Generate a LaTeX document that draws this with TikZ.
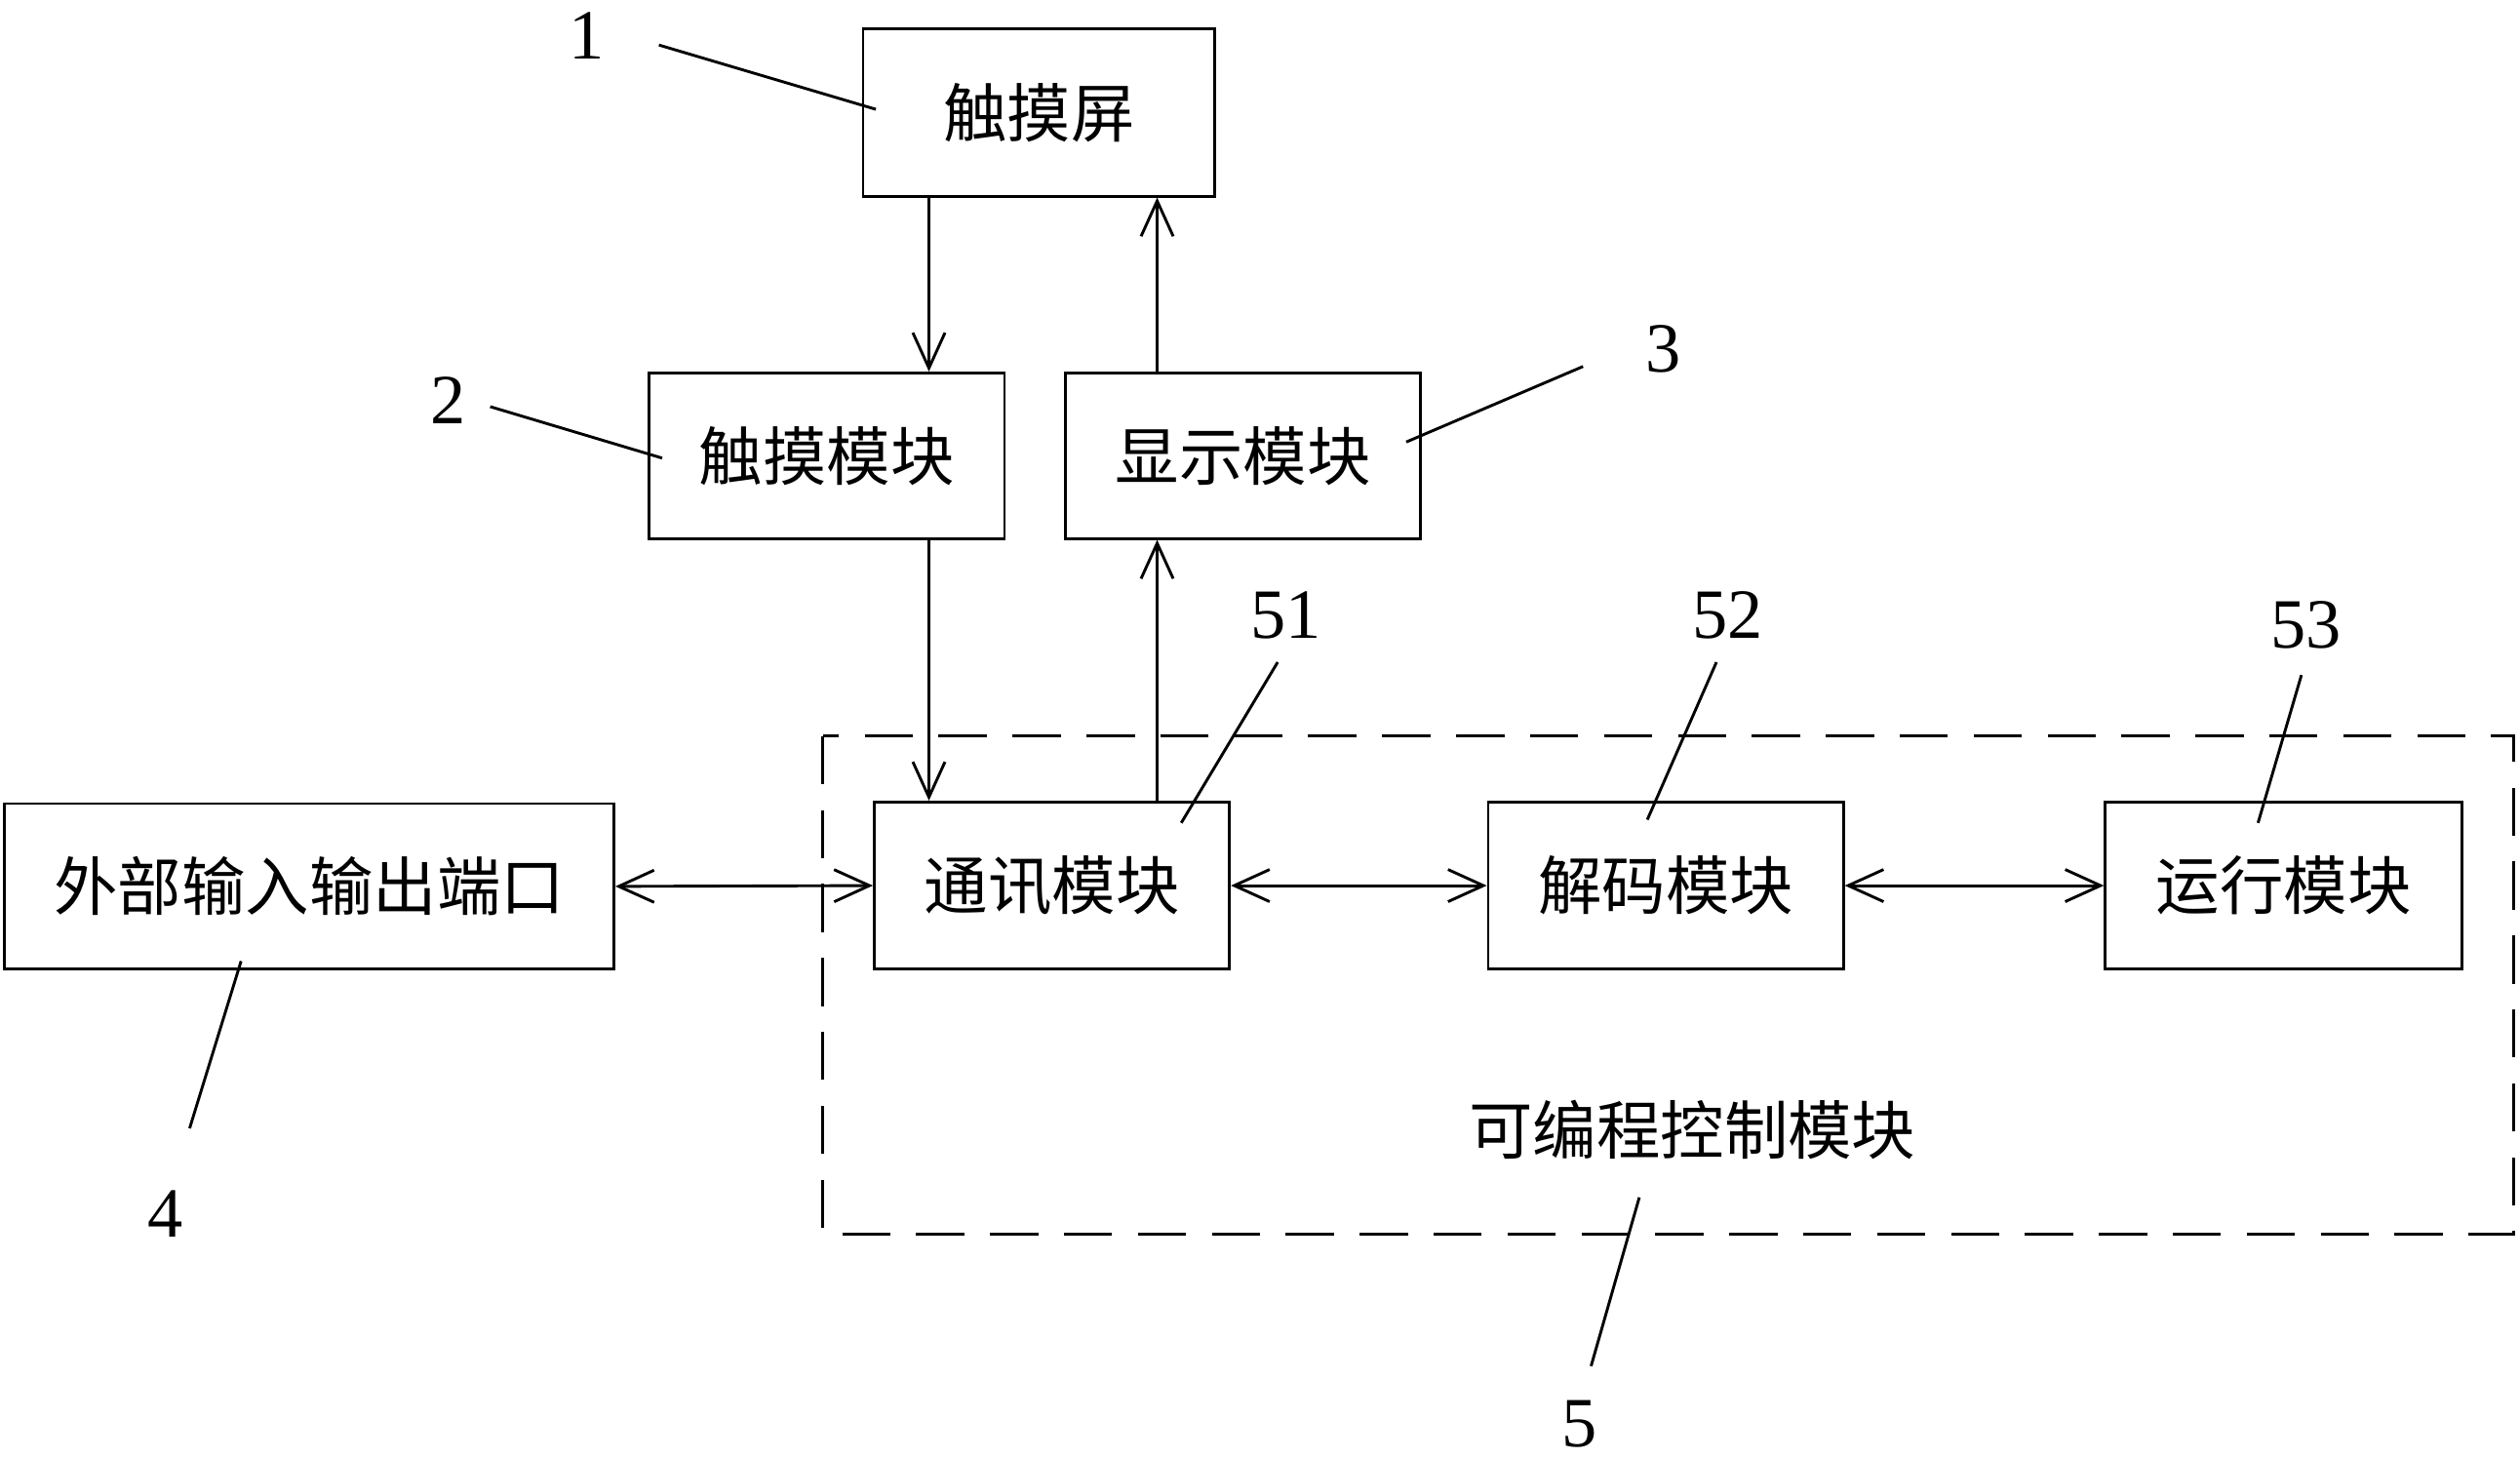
\documentclass[tikz,border=0pt]{standalone}
\usepackage{fontspec}
\setmainfont{Liberation Serif}
\newfontfamily\cjk{Noto Sans CJK SC}
\usetikzlibrary{arrows.meta}
\begin{document}
\begin{tikzpicture}[x=0.1mm,y=-0.1mm,
  box/.style={draw,line width=0.5pt,inner sep=0pt,font=\cjk\fontsize{11.3}{13}\selectfont},
  num/.style={font=\fontsize{12.5}{14}\selectfont,inner sep=0pt},
  ar/.style={line width=0.5pt,-{Straight Barb[length=2.2mm,width=2mm]}},
  dar/.style={line width=0.5pt,{Straight Barb[length=2.2mm,width=2mm]}-{Straight Barb[length=2.2mm,width=2mm]}},
  ld/.style={line width=0.5pt}]
\useasboundingbox (0,0) rectangle (1568,907);
\node[box,minimum width=21.9mm,minimum height=10.4mm] (ts) at (646.5,70) {触摸屏};
\node[box,minimum width=22.1mm,minimum height=10.3mm] (tm) at (514.5,283.5) {触摸模块};
\node[box,minimum width=22.1mm,minimum height=10.3mm] (dm) at (773.5,283.5) {显示模块};
\node[box,minimum width=37.9mm,minimum height=10.3mm] (io) at (192.5,551.5) {外部输入输出端口};
\node[box,minimum width=22.1mm,minimum height=10.4mm] (cm) at (654.5,551) {通讯模块};
\node[box,minimum width=22.1mm,minimum height=10.4mm] (jm) at (1036.5,551) {解码模块};
\node[box,minimum width=22.2mm,minimum height=10.4mm] (rm) at (1421,551) {运行模块};
\draw[line width=0.5pt,dash pattern=on 3mm off 1.6mm] (512,458) rectangle (1564,768);
\node[font=\cjk\fontsize{11.3}{13}\selectfont] (pc) at (1053,703) {可编程控制模块};

\draw[ar] (ts.south -| 578,0) -- (tm.north -| 578,0);
\draw[ar] (dm.north -| 720,0) -- (ts.south -| 720,0);
\draw[ar] (tm.south -| 578,0) -- (cm.north -| 578,0);
\draw[ar] (cm.north -| 720,0) -- (dm.south -| 720,0);
\draw[dar] (io.east) -- (cm.west);
\draw[dar] (cm.east) -- (jm.west);
\draw[dar] (jm.east) -- (rm.west);

\node[num] (n1) at (365,22) {1};
\node[num] (n2) at (279,249) {2};
\node[num] (n3) at (1035,217) {3};
\node[num] (n4) at (103,755) {4};
\node[num] (n5) at (983,886) {5};
\node[num] (n51) at (800,383) {51};
\node[num] (n52) at (1075,383) {52};
\node[num] (n53) at (1435,389) {53};
\coordinate (e1) at (545,68); \draw[ld] (410,28) -- (e1);
\coordinate (e2) at (412,285); \draw[ld] (305,253) -- (e2);
\coordinate (e3) at (875,275); \draw[ld] (985,228) -- (e3);
\coordinate (e4) at (150,598); \draw[ld] (118,702) -- (e4);
\coordinate (e5) at (1020,745); \draw[ld] (990,850) -- (e5);
\coordinate (e51) at (735,512); \draw[ld] (795,412) -- (e51);
\coordinate (e52) at (1025,510); \draw[ld] (1068,412) -- (e52);
\coordinate (e53) at (1405,512); \draw[ld] (1432,420) -- (e53);
\end{tikzpicture}
\end{document}
